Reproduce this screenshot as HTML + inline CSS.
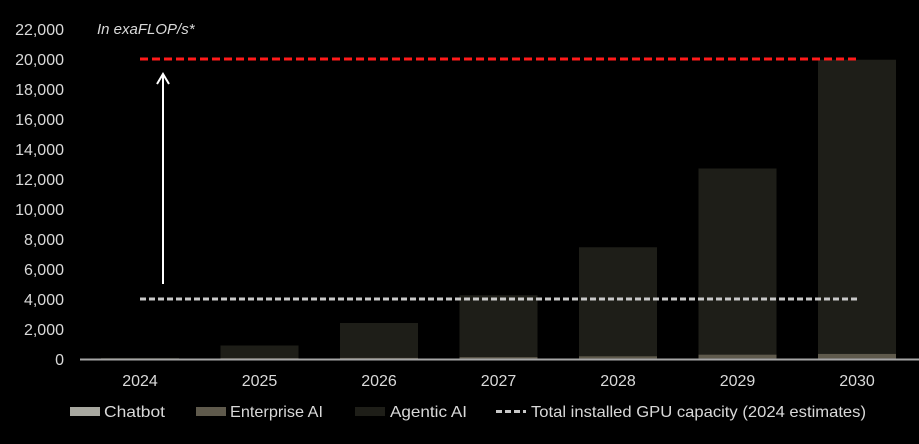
<!DOCTYPE html>
<html><head><meta charset="utf-8"><style>
html,body{margin:0;padding:0;background:#000;}
svg{display:block;font-family:"Liberation Sans",sans-serif;}
</style></head><body>
<svg id="chart" width="919" height="444" viewBox="0 0 919 444">
<g id="yaxis"></g>
<g id="bars"></g>
<g id="xaxis"></g>
<g id="refs"></g>
<text x="97" y="34" fill="#d9d9d9" font-size="15" font-style="italic">In exaFLOP/s*</text>
<g id="legend"></g>
</svg>
<script>
const years = ["2024","2025","2026","2027","2028","2029","2030"];
const chatbot = [20, 20, 25, 30, 40, 45, 50];
const enterprise = [30, 40, 60, 100, 150, 250, 300];
const agentic = [20, 840, 2315, 4120, 7260, 12405, 19600];
const yTicks = [0,2000,4000,6000,8000,10000,12000,14000,16000,18000,20000,22000];
const gpuCapacity = 4000;
const targetLevel = 20000;

const NS="http://www.w3.org/2000/svg";
const y0=359, pxPer=300/20000;
const Y=v=>y0-v*pxPer;
const X=i=>140+i*119.5;
const bw=78;
function el(tag,attrs,parent){const e=document.createElementNS(NS,tag);for(const k in attrs)e.setAttribute(k,attrs[k]);parent.appendChild(e);return e;}
const yaxis=document.getElementById('yaxis');
yTicks.forEach(t=>{
  const tx=el('text',{x:64,y:Y(t)+6,fill:'#d9d9d9','font-size':16,'text-anchor':'end'},yaxis);
  tx.textContent=t.toLocaleString('en-US');
  
  
});
const bars=document.getElementById('bars');
years.forEach((yr,i)=>{
  let base=0;
  [[chatbot,'#a8a8a0','chatbot'],[enterprise,'#5f5a4c','enterprise-ai'],[agentic,'#1e1e18','agentic-ai']].forEach(([arr,c,n])=>{
    const v=arr[i];
    const r=el('rect',{x:X(i)-bw/2,y:Y(base+v),width:bw,height:v*pxPer,fill:c},bars);
    
    
    base+=v;
  });
});
const xaxis=document.getElementById('xaxis');
const ax=el('line',{x1:80,x2:919,y1:y0+0.5,y2:y0+0.5,stroke:'#a6a6a6','stroke-width':2},xaxis);


years.forEach((yr,i)=>{
  const t=el('text',{x:X(i),y:386,fill:'#d9d9d9','font-size':16,'text-anchor':'middle'},xaxis);
  t.textContent=yr;
  
  
});
const refs=document.getElementById('refs');
const g1=el('line',{x1:X(0),x2:X(6),y1:Y(gpuCapacity),y2:Y(gpuCapacity),stroke:'#c8c8c8','stroke-width':3,'stroke-dasharray':'6 3'},refs);


const g2=el('line',{x1:X(0),x2:X(6),y1:Y(targetLevel),y2:Y(targetLevel),stroke:'#ff1a1a','stroke-width':3,'stroke-dasharray':'8 4'},refs);


const arr=el('path',{d:`M163 ${Y(gpuCapacity)-15} L163 ${Y(targetLevel)+15} M157 ${Y(targetLevel)+25} L163 ${Y(targetLevel)+15} L169 ${Y(targetLevel)+25}`,stroke:'#fff','stroke-width':2,fill:'none'},refs);


const legend=document.getElementById('legend');
const items=[['Chatbot','#a8a8a0',70,104,61],['Enterprise AI','#5f5a4c',196,230,93],['Agentic AI','#1e1e18',355,390,77]];
items.forEach(([l,c,x,tx,w])=>{
  const r=el('rect',{x:x,y:407,width:30,height:9,fill:c},legend);
  
  
  const t=el('text',{x:tx,y:417,fill:'#d9d9d9','font-size':16,textLength:w,lengthAdjust:'spacingAndGlyphs'},legend);
  t.textContent=l;
  
  
});
const dl=el('line',{x1:496,x2:526,y1:411.5,y2:411.5,stroke:'#c8c8c8','stroke-width':3,'stroke-dasharray':'6 3'},legend);


const lt=el('text',{x:531,y:417,fill:'#d9d9d9','font-size':16,textLength:335,lengthAdjust:'spacingAndGlyphs'},legend);
lt.textContent='Total installed GPU capacity (2024 estimates)';


</script>
</body></html>
